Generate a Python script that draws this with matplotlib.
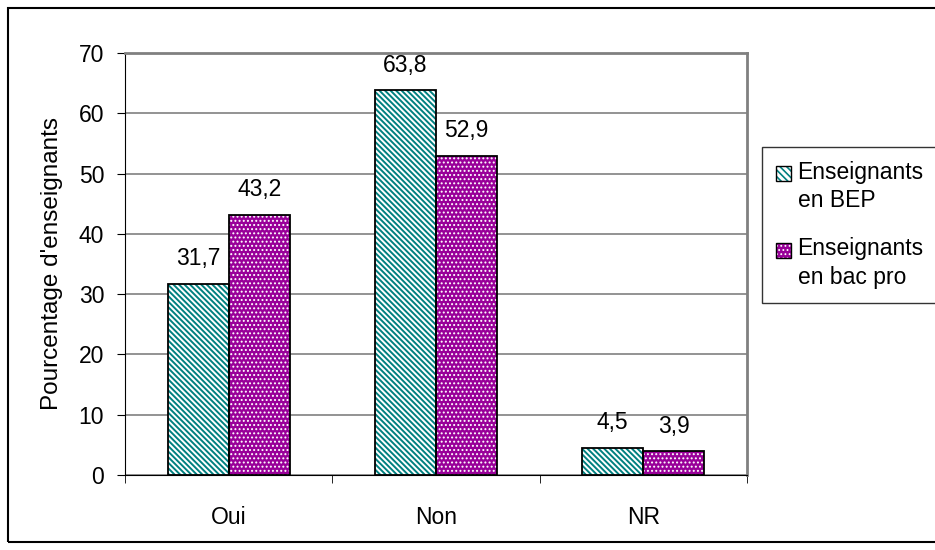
import matplotlib.pyplot as plt
import matplotlib.patches as mpatches
import numpy as np

plt.rcParams['font.family'] = ['Liberation Sans', 'DejaVu Sans']
plt.rcParams['hatch.linewidth'] = 1.5

categories = ['Oui', 'Non', 'NR']
bep = [31.7, 63.8, 4.5]
bac_pro = [43.2, 52.9, 3.9]
series_labels = ['Enseignants\nen BEP', 'Enseignants\nen bac pro']
yticks = [0, 10, 20, 30, 40, 50, 60, 70]

teal = '#008080'
purple = '#990099'
fs = 16.5


def set_hlw(artists, lw):
    for a in artists:
        if hasattr(a, 'set_hatch_linewidth'):
            a.set_hatch_linewidth(lw)


class SquareHandler:
    """Legend key drawn as a small hatched square next to the first text line."""
    def __init__(self, face, hcolor, hatch, hlw, shift):
        self.face, self.hcolor, self.hatch, self.hlw, self.shift = face, hcolor, hatch, hlw, shift

    def legend_artist(self, legend, orig_handle, fontsize, handlebox):
        x0, y0 = -handlebox.xdescent, -handlebox.ydescent + self.shift * fontsize
        w, h = handlebox.width, handlebox.height
        p = mpatches.Rectangle((x0, y0), w, h, facecolor=self.face, edgecolor=self.hcolor,
                               hatch=self.hatch, linewidth=0, transform=handlebox.get_transform())
        set_hlw([p], self.hlw)
        b = mpatches.Rectangle((x0, y0), w, h, fill=False, edgecolor='black', linewidth=1.0,
                               transform=handlebox.get_transform())
        handlebox.add_artist(p)
        handlebox.add_artist(b)
        return p


fig = plt.figure(figsize=(9.35, 5.5), dpi=100)
fig.patches.append(mpatches.Rectangle((8 / 935, 8 / 550), 1.0, 1 - 16 / 550, transform=fig.transFigure,
                                      fill=False, edgecolor='black', linewidth=1.5))
ax = fig.add_axes([125 / 935, 1 - 475 / 550, 622 / 935, 422 / 550])

x = np.arange(len(categories))
w = 0.295

# teal: white background with teal diagonal lines
b1 = ax.bar(x - w / 2, bep, w, color='white', edgecolor=teal, hatch='\\' * 6, linewidth=0, zorder=3)
ax.bar(x - w / 2, bep, w, fill=False, edgecolor='black', linewidth=1.3, zorder=4)
# purple: purple background with small white dots
b2 = ax.bar(x + w / 2, bac_pro, w, color=purple, edgecolor='white', hatch='.' * 4, linewidth=0, zorder=3)
ax.bar(x + w / 2, bac_pro, w, fill=False, edgecolor='black', linewidth=1.3, zorder=4)
set_hlw(b1, 1.4)
set_hlw(b2, 0.9)

for i in range(len(categories)):
    ax.text(x[i] - w / 2, bep[i] + 2.3, str(bep[i]).replace('.', ','), ha='center', va='bottom', fontsize=fs)
    ax.text(x[i] + w / 2, bac_pro[i] + 2.3, str(bac_pro[i]).replace('.', ','), ha='center', va='bottom', fontsize=fs)

ax.set_xlim(-0.5, len(categories) - 0.5)
ax.set_ylim(0, 70)
ax.set_yticks(yticks)
ax.tick_params(axis='y', labelsize=fs, direction='out', length=6, color='black', pad=9)
ax.set_xticks(x)
ax.set_xticklabels(categories, fontsize=fs)
ax.tick_params(axis='x', length=0, pad=22)
ax.set_xticks(np.arange(-0.5, len(categories), 1.0), minor=True)
ax.tick_params(axis='x', which='minor', direction='out', length=6, color='black')
ax.grid(axis='y', color='#808080', linewidth=1.2, zorder=0)
ax.set_axisbelow(True)

for s in ['top', 'right']:
    ax.spines[s].set_color('#808080')
    ax.spines[s].set_linewidth(2)
ax.spines['left'].set_color('black')
ax.spines['bottom'].set_color('black')
ax.spines['bottom'].set_zorder(5)

ax.set_ylabel("Pourcentage d'enseignants", fontsize=17.5, labelpad=11)

k1 = mpatches.Patch()
k2 = mpatches.Patch()
leg = fig.legend([k1, k2], series_labels, loc='upper left', bbox_to_anchor=(762 / 935, 1 - 147 / 550),
                 fontsize=fs, frameon=True, fancybox=False, edgecolor='black', handlelength=0.65,
                 handleheight=0.65, handletextpad=0.3, labelspacing=1.1, borderpad=0.6,
                 borderaxespad=0,
                 handler_map={k1: SquareHandler('white', teal, '\\' * 5, 1.2, 0.6),
                              k2: SquareHandler(purple, 'white', '.' * 4, 0.8, 0.6)})
leg.get_frame().set_linewidth(1.0)
for t in leg.get_texts():
    t.set_linespacing(1.3)

fig.savefig('out.png', dpi=100)
